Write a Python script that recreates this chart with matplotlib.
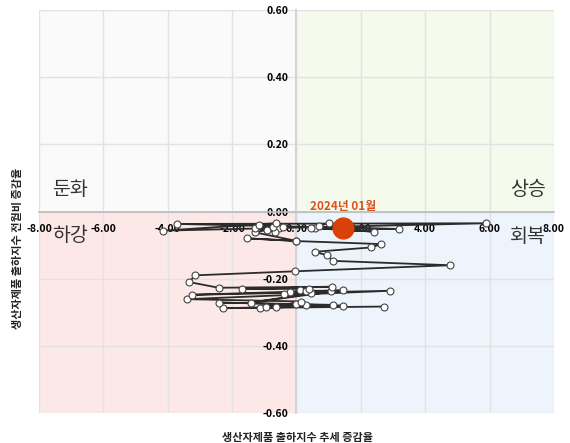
import matplotlib
matplotlib.use("Agg")
import matplotlib.pyplot as plt
from matplotlib.patches import Rectangle
import numpy as np

plt.rcParams['font.family'] = ['Noto Sans CJK KR', 'DejaVu Sans']

# trend change rate (x) and month-on-month change rate (y), oldest -> 2024-01
trend = [2.73, -2.27, 1.44, -2.42, 1.13, -1.13, 0.30, -0.94, 0.00, -0.63, 0.15, -3.40,
         2.92, -3.24, 1.44, -1.41, 0.45, -0.20, 1.08, 0.10, 0.30, -0.40, 0.40, -1.69,
         1.10, -2.42, -3.34, -3.14, -0.04, 4.78, 1.13, 0.94, 0.56, 2.32, 2.63, 0.00,
         -1.54, -0.03, -1.30, -0.92, -0.53, -1.30, -0.68, -0.43, -1.15, -0.74, -0.63,
         -4.15, 5.90, -3.70, 3.20, 0.56, 2.42, 0.46, 0.71, 1.00, 1.44]
mom = [-0.283, -0.288, -0.280, -0.271, -0.278, -0.288, -0.278, -0.283, -0.275, -0.283,
       -0.268, -0.261, -0.236, -0.248, -0.234, -0.271, -0.244, -0.240, -0.237, -0.235,
       -0.236, -0.245, -0.230, -0.231, -0.224, -0.227, -0.210, -0.190, -0.178, -0.160,
       -0.147, -0.130, -0.120, -0.107, -0.097, -0.088, -0.080, -0.087, -0.062, -0.055,
       -0.050, -0.050, -0.060, -0.045, -0.040, -0.045, -0.035, -0.057, -0.035, -0.037,
       -0.052, -0.050, -0.060, -0.048, -0.042, -0.035, -0.050]
last_label = "2024년 01월"
quadrants = ["둔화", "상승", "하강", "회복"]
xticks = np.arange(-8, 8.1, 2)
yticks = np.arange(-0.6, 0.61, 0.2)

fig = plt.figure(figsize=(5.7, 4.43), dpi=100)
ax = fig.add_axes([0.0684, 0.0677, 0.9035, 0.9097])
ax.set_xlim(-8, 8)
ax.set_ylim(-0.6, 0.6)

# quadrant backgrounds
ax.add_patch(Rectangle((-8, 0), 8, 0.6, color='#fafafa', zorder=0))
ax.add_patch(Rectangle((0, 0), 8, 0.6, color='#f4faec', zorder=0))
ax.add_patch(Rectangle((-8, -0.6), 8, 0.6, color='#fde8e8', zorder=0))
ax.add_patch(Rectangle((0, -0.6), 8, 0.6, color='#eef4fc', zorder=0))

for xv in xticks:
    ax.axvline(xv, color='#e2e2e2', lw=1, zorder=1)
for yv in yticks:
    ax.axhline(yv, color='#e2e2e2', lw=1, zorder=1)

for s in ['top', 'right']:
    ax.spines[s].set_visible(False)
ax.spines['left'].set_position(('data', 0))
ax.spines['bottom'].set_position(('data', 0))
ax.spines['left'].set_color('#d4d4d4')
ax.spines['bottom'].set_color('#bbbbbb')
ax.spines['left'].set_linewidth(1.5)
ax.spines['bottom'].set_linewidth(1.2)

ax.set_xticks(xticks)
ax.set_yticks(yticks)
ax.set_xticklabels([f"{v:.2f}" for v in xticks], fontsize=7.5, fontweight='bold')
ax.set_yticklabels([f"{v:.2f}" for v in yticks], fontsize=7.5, fontweight='bold')
ax.tick_params(length=0, pad=6)
ax.tick_params(axis='x', pad=9)

ax.plot(trend, mom, color='#2b2b2b', lw=1.3, marker='o', markersize=5,
        markerfacecolor='white', markeredgecolor='#444444', markeredgewidth=0.8, zorder=3)
ax.plot(trend[-1], mom[-1], 'o', color='#d9410b', markersize=15, zorder=4)
ax.text(trend[-1], mom[-1] + 0.066, last_label, color='#d9531e', fontsize=8.5,
        fontweight='bold', ha='center', va='center', zorder=5)

qkw = dict(fontsize=14, color='#333333', ha='center', va='center')
ax.text(-7.05, 0.065, quadrants[0], **qkw)
ax.text(7.2, 0.065, quadrants[1], **qkw)
ax.text(-7.05, -0.072, quadrants[2], **qkw)
ax.text(7.2, -0.075, quadrants[3], **qkw)

fig.text(297 / 570, 1 - 437 / 443, "생산자제품 출하지수 추세 증감율", fontsize=8,
         fontweight='bold', ha='center', va='center', color='#222222')
fig.text(18 / 570, 1 - 248 / 443, "생산자제품 출하지수 전월비 증감율", fontsize=8,
         fontweight='bold', ha='center', va='center', rotation=90, color='#222222')

fig.savefig("out.png", dpi=100)
